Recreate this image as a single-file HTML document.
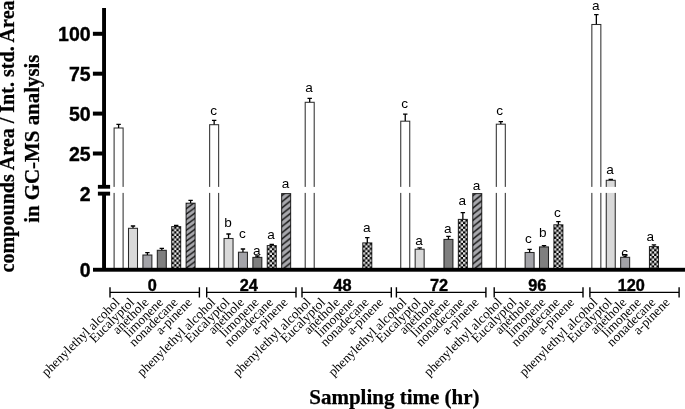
<!DOCTYPE html><html><head><meta charset="utf-8"><style>html,body{margin:0;padding:0;background:#fff}svg{display:block;will-change:transform}</style></head><body>
<svg width="685" height="409" viewBox="0 0 685 409">
<defs>
<pattern id="chk" width="4.7" height="4.7" patternUnits="userSpaceOnUse" x="0" y="0">
<rect width="4.7" height="4.7" fill="#000"/><rect x="0" y="0" width="2.35" height="2.35" fill="#e8e8e8"/><rect x="2.35" y="2.35" width="2.35" height="2.35" fill="#e8e8e8"/></pattern>
<pattern id="hat" width="7.75" height="6.2" patternUnits="userSpaceOnUse" x="0" y="0">
<rect width="7.75" height="6.2" fill="#a8a8ad"/><path d="M-1,2.9 L8.75,-4.9 M-1,9.1 L8.75,1.3 M-1,15.3 L8.75,7.5" stroke="#161616" stroke-width="1.45"/></pattern>
<pattern id="hat0" width="7.3" height="5.4" patternUnits="userSpaceOnUse" x="0" y="0">
<rect width="7.3" height="5.4" fill="#a8a8ad"/><path d="M-1,0.94 L8.3,-5.94 M-1,6.34 L8.3,-0.54 M-1,11.74 L8.3,4.86" stroke="#161616" stroke-width="1.4"/></pattern>
</defs>
<rect width="685" height="409" fill="#fff"/>
<path d="M118.60,128.00 V124.30 M116.40,124.30 H120.80" stroke="#000" stroke-width="1.3" fill="none"/>
<rect transform="translate(114.10,128.00)" x="0" y="0" width="9.00" height="141.70" fill="#ffffff" stroke="#000" stroke-opacity="0.82" stroke-width="1.05"/>
<rect x="112.60" y="186.9" width="12.00" height="6.0" fill="#fff"/>
<path d="M133.00,228.30 V226.00 M130.80,226.00 H135.20" stroke="#000" stroke-width="1.3" fill="none"/>
<rect transform="translate(128.50,228.30)" x="0" y="0" width="9.00" height="41.40" fill="#d9d9d9" stroke="#000" stroke-opacity="0.82" stroke-width="1.05"/>
<path d="M147.40,255.00 V252.60 M145.20,252.60 H149.60" stroke="#000" stroke-width="1.3" fill="none"/>
<rect transform="translate(142.90,255.00)" x="0" y="0" width="9.00" height="14.70" fill="#a3a3a8" stroke="#000" stroke-opacity="0.82" stroke-width="1.05"/>
<path d="M161.80,250.30 V248.40 M159.60,248.40 H164.00" stroke="#000" stroke-width="1.3" fill="none"/>
<rect transform="translate(157.30,250.30)" x="0" y="0" width="9.00" height="19.40" fill="#7f7f7f" stroke="#000" stroke-opacity="0.82" stroke-width="1.05"/>
<path d="M176.20,226.60 V225.50 M174.00,225.50 H178.40" stroke="#000" stroke-width="1.3" fill="none"/>
<rect transform="translate(171.70,226.60)" x="0" y="0" width="9.00" height="43.10" fill="url(#chk)" stroke="#000" stroke-opacity="0.82" stroke-width="1.05"/>
<path d="M190.60,203.20 V200.40 M188.40,200.40 H192.80" stroke="#000" stroke-width="1.3" fill="none"/>
<rect transform="translate(186.10,203.20)" x="0" y="0" width="9.00" height="66.50" fill="url(#hat0)" stroke="#000" stroke-opacity="0.82" stroke-width="1.05"/>
<path d="M214.15,124.70 V120.30 M211.95,120.30 H216.35" stroke="#000" stroke-width="1.3" fill="none"/>
<rect transform="translate(209.65,124.70)" x="0" y="0" width="9.00" height="145.00" fill="#ffffff" stroke="#000" stroke-opacity="0.82" stroke-width="1.05"/>
<rect x="208.15" y="186.9" width="12.00" height="6.0" fill="#fff"/>
<text x="213.55" y="114.60" font-family="Liberation Sans, sans-serif" font-size="13.6" text-anchor="middle" fill="#000">c</text>
<path d="M228.55,238.50 V234.00 M226.35,234.00 H230.75" stroke="#000" stroke-width="1.3" fill="none"/>
<rect transform="translate(224.05,238.50)" x="0" y="0" width="9.00" height="31.20" fill="#d9d9d9" stroke="#000" stroke-opacity="0.82" stroke-width="1.05"/>
<text x="227.95" y="226.80" font-family="Liberation Sans, sans-serif" font-size="13.6" text-anchor="middle" fill="#000">b</text>
<path d="M242.95,252.20 V249.00 M240.75,249.00 H245.15" stroke="#000" stroke-width="1.3" fill="none"/>
<rect transform="translate(238.45,252.20)" x="0" y="0" width="9.00" height="17.50" fill="#a3a3a8" stroke="#000" stroke-opacity="0.82" stroke-width="1.05"/>
<text x="242.35" y="237.50" font-family="Liberation Sans, sans-serif" font-size="13.6" text-anchor="middle" fill="#000">c</text>
<path d="M257.35,257.40 V256.00 M255.15,256.00 H259.55" stroke="#000" stroke-width="1.3" fill="none"/>
<rect transform="translate(252.85,257.40)" x="0" y="0" width="9.00" height="12.30" fill="#7f7f7f" stroke="#000" stroke-opacity="0.82" stroke-width="1.05"/>
<text x="256.75" y="254.80" font-family="Liberation Sans, sans-serif" font-size="13.6" text-anchor="middle" fill="#000">a</text>
<path d="M271.75,245.60 V244.50 M269.55,244.50 H273.95" stroke="#000" stroke-width="1.3" fill="none"/>
<rect transform="translate(267.25,245.60)" x="0" y="0" width="9.00" height="24.10" fill="url(#chk)" stroke="#000" stroke-opacity="0.82" stroke-width="1.05"/>
<text x="271.15" y="238.60" font-family="Liberation Sans, sans-serif" font-size="13.6" text-anchor="middle" fill="#000">a</text>
<rect transform="translate(281.65,193.60)" x="0" y="0" width="9.00" height="76.10" fill="url(#hat)" stroke="#000" stroke-opacity="0.82" stroke-width="1.05"/>
<text x="285.55" y="187.50" font-family="Liberation Sans, sans-serif" font-size="13.6" text-anchor="middle" fill="#000">a</text>
<path d="M309.70,102.30 V98.30 M307.50,98.30 H311.90" stroke="#000" stroke-width="1.3" fill="none"/>
<rect transform="translate(305.20,102.30)" x="0" y="0" width="9.00" height="167.40" fill="#ffffff" stroke="#000" stroke-opacity="0.82" stroke-width="1.05"/>
<rect x="303.70" y="186.9" width="12.00" height="6.0" fill="#fff"/>
<text x="309.10" y="91.60" font-family="Liberation Sans, sans-serif" font-size="13.6" text-anchor="middle" fill="#000">a</text>
<path d="M367.30,242.90 V237.60 M365.10,237.60 H369.50" stroke="#000" stroke-width="1.3" fill="none"/>
<rect transform="translate(362.80,242.90)" x="0" y="0" width="9.00" height="26.80" fill="url(#chk)" stroke="#000" stroke-opacity="0.82" stroke-width="1.05"/>
<text x="366.70" y="232.40" font-family="Liberation Sans, sans-serif" font-size="13.6" text-anchor="middle" fill="#000">a</text>
<path d="M405.25,121.20 V114.20 M403.05,114.20 H407.45" stroke="#000" stroke-width="1.3" fill="none"/>
<rect transform="translate(400.75,121.20)" x="0" y="0" width="9.00" height="148.50" fill="#ffffff" stroke="#000" stroke-opacity="0.82" stroke-width="1.05"/>
<rect x="399.25" y="186.9" width="12.00" height="6.0" fill="#fff"/>
<text x="404.65" y="108.30" font-family="Liberation Sans, sans-serif" font-size="13.6" text-anchor="middle" fill="#000">c</text>
<path d="M419.65,249.20 V247.90 M417.45,247.90 H421.85" stroke="#000" stroke-width="1.3" fill="none"/>
<rect transform="translate(415.15,249.20)" x="0" y="0" width="9.00" height="20.50" fill="#d9d9d9" stroke="#000" stroke-opacity="0.82" stroke-width="1.05"/>
<text x="419.05" y="244.50" font-family="Liberation Sans, sans-serif" font-size="13.6" text-anchor="middle" fill="#000">a</text>
<path d="M448.45,239.40 V236.30 M446.25,236.30 H450.65" stroke="#000" stroke-width="1.3" fill="none"/>
<rect transform="translate(443.95,239.40)" x="0" y="0" width="9.00" height="30.30" fill="#7f7f7f" stroke="#000" stroke-opacity="0.82" stroke-width="1.05"/>
<text x="447.85" y="232.50" font-family="Liberation Sans, sans-serif" font-size="13.6" text-anchor="middle" fill="#000">a</text>
<path d="M462.85,219.40 V212.70 M460.65,212.70 H465.05" stroke="#000" stroke-width="1.3" fill="none"/>
<rect transform="translate(458.35,219.40)" x="0" y="0" width="9.00" height="50.30" fill="url(#chk)" stroke="#000" stroke-opacity="0.82" stroke-width="1.05"/>
<text x="462.25" y="205.20" font-family="Liberation Sans, sans-serif" font-size="13.6" text-anchor="middle" fill="#000">a</text>
<rect transform="translate(472.75,193.60)" x="0" y="0" width="9.00" height="76.10" fill="url(#hat)" stroke="#000" stroke-opacity="0.82" stroke-width="1.05"/>
<text x="476.65" y="190.00" font-family="Liberation Sans, sans-serif" font-size="13.6" text-anchor="middle" fill="#000">a</text>
<path d="M500.80,124.20 V121.70 M498.60,121.70 H503.00" stroke="#000" stroke-width="1.3" fill="none"/>
<rect transform="translate(496.30,124.20)" x="0" y="0" width="9.00" height="145.50" fill="#ffffff" stroke="#000" stroke-opacity="0.82" stroke-width="1.05"/>
<rect x="494.80" y="186.9" width="12.00" height="6.0" fill="#fff"/>
<text x="499.70" y="114.50" font-family="Liberation Sans, sans-serif" font-size="13.6" text-anchor="middle" fill="#000">c</text>
<path d="M529.60,252.50 V249.40 M527.40,249.40 H531.80" stroke="#000" stroke-width="1.3" fill="none"/>
<rect transform="translate(525.10,252.50)" x="0" y="0" width="9.00" height="17.20" fill="#a3a3a8" stroke="#000" stroke-opacity="0.82" stroke-width="1.05"/>
<text x="528.50" y="243.30" font-family="Liberation Sans, sans-serif" font-size="13.6" text-anchor="middle" fill="#000">c</text>
<path d="M544.00,246.90 V245.60 M541.80,245.60 H546.20" stroke="#000" stroke-width="1.3" fill="none"/>
<rect transform="translate(539.50,246.90)" x="0" y="0" width="9.00" height="22.80" fill="#7f7f7f" stroke="#000" stroke-opacity="0.82" stroke-width="1.05"/>
<text x="542.90" y="237.40" font-family="Liberation Sans, sans-serif" font-size="13.6" text-anchor="middle" fill="#000">b</text>
<path d="M558.40,224.80 V221.70 M556.20,221.70 H560.60" stroke="#000" stroke-width="1.3" fill="none"/>
<rect transform="translate(553.90,224.80)" x="0" y="0" width="9.00" height="44.90" fill="url(#chk)" stroke="#000" stroke-opacity="0.82" stroke-width="1.05"/>
<text x="557.30" y="216.80" font-family="Liberation Sans, sans-serif" font-size="13.6" text-anchor="middle" fill="#000">c</text>
<path d="M596.35,24.50 V14.60 M594.15,14.60 H598.55" stroke="#000" stroke-width="1.3" fill="none"/>
<rect transform="translate(591.85,24.50)" x="0" y="0" width="9.00" height="245.20" fill="#ffffff" stroke="#000" stroke-opacity="0.82" stroke-width="1.05"/>
<rect x="590.35" y="186.9" width="12.00" height="6.0" fill="#fff"/>
<text x="595.75" y="9.50" font-family="Liberation Sans, sans-serif" font-size="13.6" text-anchor="middle" fill="#000">a</text>
<path d="M610.75,180.30 V179.50 M608.55,179.50 H612.95" stroke="#000" stroke-width="1.3" fill="none"/>
<rect transform="translate(606.25,180.30)" x="0" y="0" width="9.00" height="89.40" fill="#d9d9d9" stroke="#000" stroke-opacity="0.82" stroke-width="1.05"/>
<rect x="604.75" y="186.9" width="12.00" height="6.0" fill="#fff"/>
<text x="610.15" y="174.40" font-family="Liberation Sans, sans-serif" font-size="13.6" text-anchor="middle" fill="#000">a</text>
<path d="M625.15,257.30 V254.70 M622.95,254.70 H627.35" stroke="#000" stroke-width="1.3" fill="none"/>
<rect transform="translate(620.65,257.30)" x="0" y="0" width="9.00" height="12.40" fill="#a3a3a8" stroke="#000" stroke-opacity="0.82" stroke-width="1.05"/>
<text x="624.55" y="256.60" font-family="Liberation Sans, sans-serif" font-size="13.6" text-anchor="middle" fill="#000">c</text>
<path d="M653.95,246.60 V244.80 M651.75,244.80 H656.15" stroke="#000" stroke-width="1.3" fill="none"/>
<rect transform="translate(649.45,246.60)" x="0" y="0" width="9.00" height="23.10" fill="url(#chk)" stroke="#000" stroke-opacity="0.82" stroke-width="1.05"/>
<text x="650.35" y="240.60" font-family="Liberation Sans, sans-serif" font-size="13.6" text-anchor="middle" fill="#000">a</text>
<rect x="93" y="267.8" width="592" height="3.9" fill="#000"/>
<rect x="102.1" y="8" width="3.9" height="178.5" fill="#000"/>
<rect x="102.1" y="193" width="3.9" height="78" fill="#000"/>
<rect x="97.9" y="184.9" width="12.2" height="3.8" fill="#000"/>
<rect x="97.9" y="191.7" width="12.2" height="3.9" fill="#000"/>
<rect x="92.9" y="31.80" width="10" height="4.0" fill="#000"/>
<text x="90.6" y="40.80" font-family="Liberation Sans, sans-serif" font-weight="bold" font-size="19.5" text-anchor="end" fill="#000" stroke="#000" stroke-width="0.35">100</text>
<rect x="92.9" y="71.70" width="10" height="4.0" fill="#000"/>
<text x="90.6" y="80.70" font-family="Liberation Sans, sans-serif" font-weight="bold" font-size="19.5" text-anchor="end" fill="#000" stroke="#000" stroke-width="0.35">75</text>
<rect x="92.9" y="111.60" width="10" height="4.0" fill="#000"/>
<text x="90.6" y="120.60" font-family="Liberation Sans, sans-serif" font-weight="bold" font-size="19.5" text-anchor="end" fill="#000" stroke="#000" stroke-width="0.35">50</text>
<rect x="92.9" y="151.50" width="10" height="4.0" fill="#000"/>
<text x="90.6" y="160.50" font-family="Liberation Sans, sans-serif" font-weight="bold" font-size="19.5" text-anchor="end" fill="#000" stroke="#000" stroke-width="0.35">25</text>
<text x="90.6" y="200.9" font-family="Liberation Sans, sans-serif" font-weight="bold" font-size="19.5" text-anchor="end" fill="#000" stroke="#000" stroke-width="0.35">2</text>
<text x="90.6" y="277.0" font-family="Liberation Sans, sans-serif" font-weight="bold" font-size="19.5" text-anchor="end" fill="#000" stroke="#000" stroke-width="0.35">0</text>
<path d="M110.00,287.2 V297.6 M199.40,287.2 V297.6 M110.00,292.4 H199.40" stroke="#000" stroke-width="1.4" fill="none"/>
<text x="152.30" y="290.8" font-family="Liberation Sans, sans-serif" font-weight="bold" font-size="16.3" stroke="#000" stroke-width="0.4" text-anchor="middle" fill="#000">0</text>
<text transform="translate(120.60,303.20) rotate(-45)" font-family="Liberation Serif, serif" font-size="13.2" text-anchor="end" fill="#000">phenylethyl alcohol</text>
<text transform="translate(135.03,303.20) rotate(-45)" font-family="Liberation Serif, serif" font-size="13.2" text-anchor="end" fill="#000">Eucalyptol</text>
<text transform="translate(149.46,303.20) rotate(-45)" font-family="Liberation Serif, serif" font-size="13.2" text-anchor="end" fill="#000">anethole</text>
<text transform="translate(163.89,303.20) rotate(-45)" font-family="Liberation Serif, serif" font-size="13.2" text-anchor="end" fill="#000">limonene</text>
<text transform="translate(178.32,303.20) rotate(-45)" font-family="Liberation Serif, serif" font-size="13.2" text-anchor="end" fill="#000">nonadecane</text>
<text transform="translate(192.75,303.20) rotate(-45)" font-family="Liberation Serif, serif" font-size="13.2" text-anchor="end" fill="#000">a-pinene</text>
<path d="M206.70,287.2 V297.6 M296.00,287.2 V297.6 M206.70,292.4 H296.00" stroke="#000" stroke-width="1.4" fill="none"/>
<text x="248.80" y="290.8" font-family="Liberation Sans, sans-serif" font-weight="bold" font-size="16.3" stroke="#000" stroke-width="0.4" text-anchor="middle" fill="#000">24</text>
<text transform="translate(216.15,303.20) rotate(-45)" font-family="Liberation Serif, serif" font-size="13.2" text-anchor="end" fill="#000">phenylethyl alcohol</text>
<text transform="translate(230.58,303.20) rotate(-45)" font-family="Liberation Serif, serif" font-size="13.2" text-anchor="end" fill="#000">Eucalyptol</text>
<text transform="translate(245.01,303.20) rotate(-45)" font-family="Liberation Serif, serif" font-size="13.2" text-anchor="end" fill="#000">anethole</text>
<text transform="translate(259.44,303.20) rotate(-45)" font-family="Liberation Serif, serif" font-size="13.2" text-anchor="end" fill="#000">limonene</text>
<text transform="translate(273.87,303.20) rotate(-45)" font-family="Liberation Serif, serif" font-size="13.2" text-anchor="end" fill="#000">nonadecane</text>
<text transform="translate(288.30,303.20) rotate(-45)" font-family="Liberation Serif, serif" font-size="13.2" text-anchor="end" fill="#000">a-pinene</text>
<path d="M302.00,287.2 V297.6 M391.30,287.2 V297.6 M302.00,292.4 H391.30" stroke="#000" stroke-width="1.4" fill="none"/>
<text x="342.60" y="290.8" font-family="Liberation Sans, sans-serif" font-weight="bold" font-size="16.3" stroke="#000" stroke-width="0.4" text-anchor="middle" fill="#000">48</text>
<text transform="translate(311.70,303.20) rotate(-45)" font-family="Liberation Serif, serif" font-size="13.2" text-anchor="end" fill="#000">phenylethyl alcohol</text>
<text transform="translate(326.13,303.20) rotate(-45)" font-family="Liberation Serif, serif" font-size="13.2" text-anchor="end" fill="#000">Eucalyptol</text>
<text transform="translate(340.56,303.20) rotate(-45)" font-family="Liberation Serif, serif" font-size="13.2" text-anchor="end" fill="#000">anethole</text>
<text transform="translate(354.99,303.20) rotate(-45)" font-family="Liberation Serif, serif" font-size="13.2" text-anchor="end" fill="#000">limonene</text>
<text transform="translate(369.42,303.20) rotate(-45)" font-family="Liberation Serif, serif" font-size="13.2" text-anchor="end" fill="#000">nonadecane</text>
<text transform="translate(383.85,303.20) rotate(-45)" font-family="Liberation Serif, serif" font-size="13.2" text-anchor="end" fill="#000">a-pinene</text>
<path d="M396.40,287.2 V297.6 M485.90,287.2 V297.6 M396.40,292.4 H485.90" stroke="#000" stroke-width="1.4" fill="none"/>
<text x="439.00" y="290.8" font-family="Liberation Sans, sans-serif" font-weight="bold" font-size="16.3" stroke="#000" stroke-width="0.4" text-anchor="middle" fill="#000">72</text>
<text transform="translate(407.25,303.20) rotate(-45)" font-family="Liberation Serif, serif" font-size="13.2" text-anchor="end" fill="#000">phenylethyl alcohol</text>
<text transform="translate(421.68,303.20) rotate(-45)" font-family="Liberation Serif, serif" font-size="13.2" text-anchor="end" fill="#000">Eucalyptol</text>
<text transform="translate(436.11,303.20) rotate(-45)" font-family="Liberation Serif, serif" font-size="13.2" text-anchor="end" fill="#000">anethole</text>
<text transform="translate(450.54,303.20) rotate(-45)" font-family="Liberation Serif, serif" font-size="13.2" text-anchor="end" fill="#000">limonene</text>
<text transform="translate(464.97,303.20) rotate(-45)" font-family="Liberation Serif, serif" font-size="13.2" text-anchor="end" fill="#000">nonadecane</text>
<text transform="translate(479.40,303.20) rotate(-45)" font-family="Liberation Serif, serif" font-size="13.2" text-anchor="end" fill="#000">a-pinene</text>
<path d="M494.20,287.2 V297.6 M583.00,287.2 V297.6 M494.20,292.4 H583.00" stroke="#000" stroke-width="1.4" fill="none"/>
<text x="537.20" y="290.8" font-family="Liberation Sans, sans-serif" font-weight="bold" font-size="16.3" stroke="#000" stroke-width="0.4" text-anchor="middle" fill="#000">96</text>
<text transform="translate(502.80,303.20) rotate(-45)" font-family="Liberation Serif, serif" font-size="13.2" text-anchor="end" fill="#000">phenylethyl alcohol</text>
<text transform="translate(517.23,303.20) rotate(-45)" font-family="Liberation Serif, serif" font-size="13.2" text-anchor="end" fill="#000">Eucalyptol</text>
<text transform="translate(531.66,303.20) rotate(-45)" font-family="Liberation Serif, serif" font-size="13.2" text-anchor="end" fill="#000">anethole</text>
<text transform="translate(546.09,303.20) rotate(-45)" font-family="Liberation Serif, serif" font-size="13.2" text-anchor="end" fill="#000">limonene</text>
<text transform="translate(560.52,303.20) rotate(-45)" font-family="Liberation Serif, serif" font-size="13.2" text-anchor="end" fill="#000">nonadecane</text>
<text transform="translate(574.95,303.20) rotate(-45)" font-family="Liberation Serif, serif" font-size="13.2" text-anchor="end" fill="#000">a-pinene</text>
<path d="M589.90,287.2 V297.6 M679.10,287.2 V297.6 M589.90,292.4 H679.10" stroke="#000" stroke-width="1.4" fill="none"/>
<text x="631.30" y="290.8" font-family="Liberation Sans, sans-serif" font-weight="bold" font-size="16.3" stroke="#000" stroke-width="0.4" text-anchor="middle" fill="#000">120</text>
<text transform="translate(598.35,303.20) rotate(-45)" font-family="Liberation Serif, serif" font-size="13.2" text-anchor="end" fill="#000">phenylethyl alcohol</text>
<text transform="translate(612.78,303.20) rotate(-45)" font-family="Liberation Serif, serif" font-size="13.2" text-anchor="end" fill="#000">Eucalyptol</text>
<text transform="translate(627.21,303.20) rotate(-45)" font-family="Liberation Serif, serif" font-size="13.2" text-anchor="end" fill="#000">anethole</text>
<text transform="translate(641.64,303.20) rotate(-45)" font-family="Liberation Serif, serif" font-size="13.2" text-anchor="end" fill="#000">limonene</text>
<text transform="translate(656.07,303.20) rotate(-45)" font-family="Liberation Serif, serif" font-size="13.2" text-anchor="end" fill="#000">nonadecane</text>
<text transform="translate(670.50,303.20) rotate(-45)" font-family="Liberation Serif, serif" font-size="13.2" text-anchor="end" fill="#000">a-pinene</text>
<text x="394.4" y="404.2" font-family="Liberation Serif, serif" font-weight="bold" stroke="#000" stroke-width="0.25" font-size="21" text-anchor="middle" fill="#000">Sampling time (hr)</text>
<text transform="translate(14.1,272.4) rotate(-90)" font-family="Liberation Serif, serif" font-weight="bold" stroke="#000" stroke-width="0.25" font-size="22" textLength="272" lengthAdjust="spacingAndGlyphs" fill="#000">compounds Area / Int. std. Area</text>
<text transform="translate(39.1,138.7) rotate(-90)" font-family="Liberation Serif, serif" font-weight="bold" stroke="#000" stroke-width="0.25" font-size="20.9" text-anchor="middle" fill="#000">in GC-MS analysis</text>
</svg></body></html>
